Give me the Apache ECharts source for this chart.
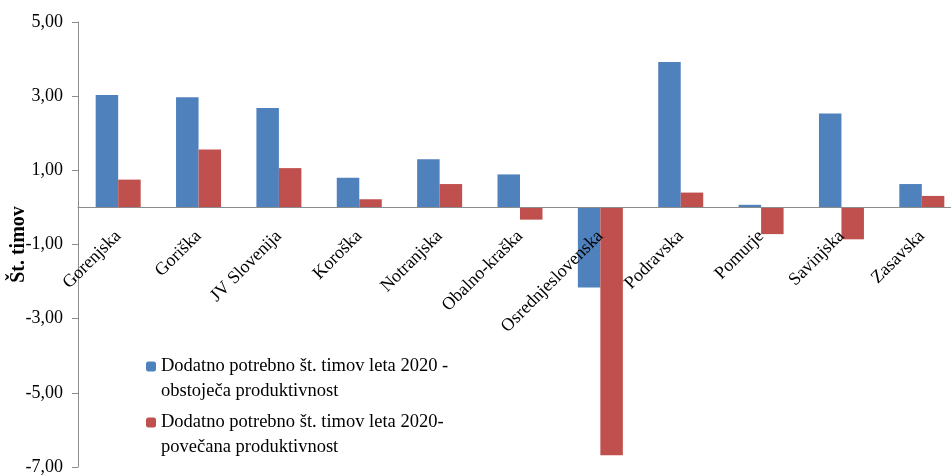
<!DOCTYPE html>
<html><head><meta charset="utf-8">
<script src="https://cdn.jsdelivr.net/npm/echarts@6/dist/echarts.min.js"></script>
<style>html,body{margin:0;padding:0;background:#fff}#c{width:951px;height:476px}</style>
</head><body><div id="c"></div>
<script>
const categories = ['Gorenjska','Goriška','JV Slovenija','Koroška','Notranjska','Obalno-kraška','Osrednjeslovenska','Podravska','Pomurje','Savinjska','Zasavska'];
const seriesNames = ['Dodatno potrebno št. timov leta 2020 -\nobstoječa produktivnost','Dodatno potrebno št. timov leta 2020-\npovečana produktivnost'];
const obstojeca = [3.03, 2.97, 2.68, 0.80, 1.30, 0.89, -2.16, 3.92, 0.07, 2.53, 0.63];
const povecana = [0.75, 1.56, 1.06, 0.22, 0.63, -0.33, -6.68, 0.40, -0.72, -0.86, 0.31];
const yTicks = {min: -7, max: 5, interval: 2};
const yName = 'Št. timov';

const W = 951, H = 476;
const gridTop = 22, gridBottom = 9;
const gridH = H - gridTop - gridBottom;
// shift the category axis from the grid bottom up to the value 0
const zeroOffset = -gridH * (0 - yTicks.min) / (yTicks.max - yTicks.min);

const font = 'Liberation Serif';
const legendBase = {
  orient: 'vertical', left: 146, padding: 0,
  itemWidth: 10, itemHeight: 10,
  formatter: n => ' \n' + n,
  textStyle: {fontFamily: font, fontSize: 18.5, color: '#000', lineHeight: 25}
};
const chart = echarts.init(document.getElementById('c'));
chart.setOption({
  animation: false,
  backgroundColor: '#fff',
  grid: {left: 78, top: gridTop, bottom: gridBottom, right: -11, containLabel: false, outerBoundsMode: 'none'},
  legend: [
    Object.assign({}, legendBase, {top: 329, data: [seriesNames[0]]}),
    Object.assign({}, legendBase, {top: 385, data: [seriesNames[1]]})
  ],
  xAxis: {
    type: 'category', data: categories, z: 10, position: 'bottom', offset: zeroOffset,
    axisLine: {onZero: false, lineStyle: {color: '#8c8c8c', width: 1}},
    axisTick: {length: 5, lineStyle: {color: '#8c8c8c'}},
    axisLabel: {rotate: 45, interval: 0, fontFamily: font, fontSize: 18, color: '#000', margin: 26}
  },
  yAxis: {
    type: 'value', min: yTicks.min, max: yTicks.max, interval: yTicks.interval,
    name: yName, nameLocation: 'middle', nameGap: 49, nameMoveOverlap: false,
    nameTextStyle: {fontFamily: font, fontSize: 20, fontWeight: 'bold', color: '#000'},
    axisLine: {show: true, lineStyle: {color: '#8c8c8c'}},
    axisTick: {show: true, length: 6, lineStyle: {color: '#8c8c8c'}},
    splitLine: {show: false},
    axisLabel: {fontFamily: font, fontSize: 18, color: '#000', margin: 15,
      formatter: v => v.toFixed(2).replace('.', ',')}
  },
  series: [
    {name: seriesNames[0], type: 'bar', data: obstojeca, barGap: '0%', barCategoryGap: '44%',
     itemStyle: {color: '#4F81BD'}},
    {name: seriesNames[1], type: 'bar', data: povecana, barGap: '0%', barCategoryGap: '44%',
     itemStyle: {color: '#C0504D'}}
  ]
});
</script></body></html>
